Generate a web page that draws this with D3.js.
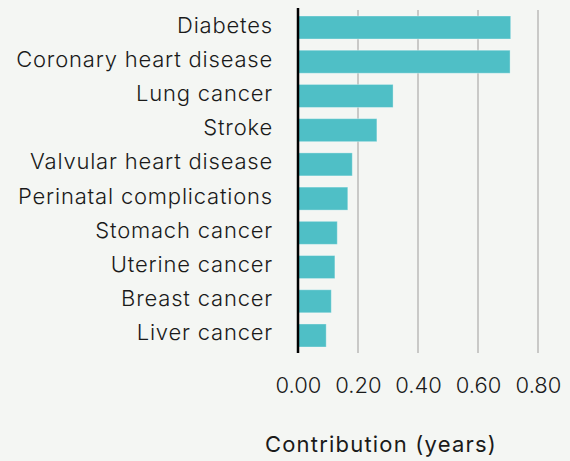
<!DOCTYPE html>
<html>
<head>
<meta charset="utf-8">
<script src="https://cdn.jsdelivr.net/npm/d3@7"></script>
<style>
  body { margin: 0; background: #f4f6f3; }
  svg { display: block; }
  text { font-family: Inter, "Noto Sans", sans-serif; fill: #1a1a1a; }
</style>
</head>
<body>
<svg width="570" height="461"></svg>
<script>
// chart data
var causes = ["Diabetes", "Coronary heart disease", "Lung cancer", "Stroke",
  "Valvular heart disease", "Perinatal complications", "Stomach cancer",
  "Uterine cancer", "Breast cancer", "Liver cancer"];
var contribution = [0.709, 0.707, 0.317, 0.263, 0.181, 0.166, 0.131, 0.123, 0.111, 0.094];
var tickValues = [0, 0.2, 0.4, 0.6, 0.8];
var axisTitle = "Contribution (years)";

var svg = d3.select('svg');

var svgWidth = +svg.attr('width');
var svgHeight = +svg.attr('height');

var padding = {t: 10, r: 32, b: 108, l: 298};

var chartWidth = svgWidth - padding.l - padding.r;
var chartHeight = svgHeight - padding.t - padding.b;

svg.append('rect')
    .attr('width', svgWidth)
    .attr('height', svgHeight)
    .style('fill', '#f4f6f3');

var data = causes.map(function(c, i) {
  return {cause: c, value: contribution[i]};
});

var xScale = d3.scaleLinear()
    .domain([0, 0.8])
    .range([0, chartWidth]);

var yScale = d3.scaleBand()
    .domain(causes)
    .range([0, chartHeight])
    .paddingInner(0.327)
    .paddingOuter(0.175);

var chart = svg.append('g')
    .attr('transform', 'translate(' + [padding.l, padding.t] + ')');

// vertical gridlines
chart.selectAll('.grid')
    .data(tickValues.slice(1))
    .enter()
    .append('line')
    .attr('class', 'grid')
    .attr('x1', function(d) { return xScale(d); })
    .attr('x2', function(d) { return xScale(d); })
    .attr('y1', 0)
    .attr('y2', chartHeight)
    .style('stroke', '#c9c9c7')
    .style('stroke-width', 2);

// bars
chart.selectAll('.bar')
    .data(data)
    .enter()
    .append('rect')
    .attr('class', 'bar')
    .attr('x', xScale(0))
    .attr('y', function(d) { return yScale(d.cause); })
    .attr('width', function(d) { return xScale(d.value) - xScale(0); })
    .attr('height', yScale.bandwidth())
    .style('fill', '#4fbfc6')
    .style('stroke', '#ffffff')
    .style('stroke-opacity', 0.35)
    .style('stroke-width', 1);

// category labels
chart.selectAll('.label')
    .data(data)
    .enter()
    .append('text')
    .attr('class', 'label')
    .attr('x', -25)
    .attr('y', function(d) { return yScale(d.cause) + yScale.bandwidth() / 2 + 5; })
    .attr('text-anchor', 'end')
    .style('font-size', '22px')
    .style('font-weight', 300)
    .style('letter-spacing', '0.8px')
    .text(function(d) { return d.cause; });

// x axis labels
var xAxis = d3.axisBottom(xScale)
    .tickValues(tickValues)
    .tickFormat(d3.format('.2f'))
    .tickSize(0)
    .tickPadding(0);

var axisG = chart.append('g')
    .attr('transform', 'translate(0,' + (chartHeight + 24) + ')')
    .call(xAxis);
axisG.select('.domain').remove();
axisG.selectAll('text')
    .attr('dy', '0.71em')
    .style('font-size', '22px')
    .style('font-weight', 300)
    .style('font-family', 'Inter, sans-serif')
    .style('fill', '#1a1a1a');

// zero line
chart.append('line')
    .attr('x1', xScale(0))
    .attr('x2', xScale(0))
    .attr('y1', -2)
    .attr('y2', chartHeight)
    .style('stroke', '#000')
    .style('stroke-width', 2.5);

// axis title
svg.append('text')
    .attr('x', 381)
    .attr('y', 452)
    .attr('text-anchor', 'middle')
    .style('font-size', '22px')
    .style('font-weight', 400)
    .style('letter-spacing', '1.2px')
    .text(axisTitle);
</script>
</body>
</html>
